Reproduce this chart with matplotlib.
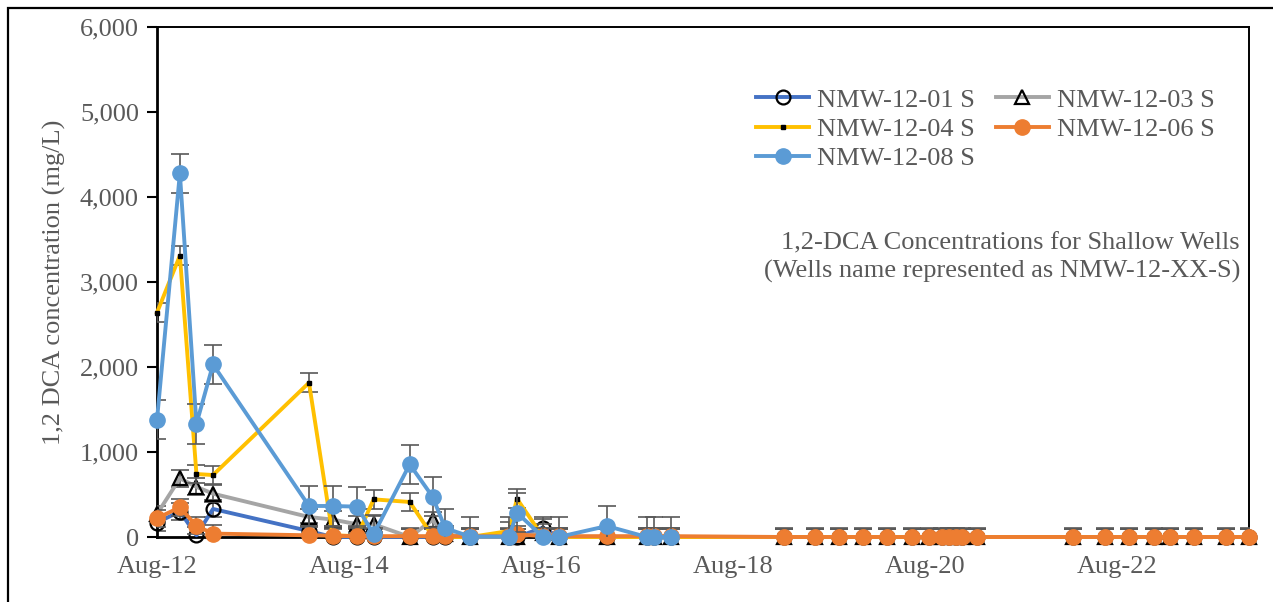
import pandas as pd
import matplotlib
matplotlib.use('Agg')
import matplotlib.pyplot as plt
import matplotlib.dates as mdates
from matplotlib.ticker import FuncFormatter
from matplotlib.patches import Rectangle

# sampling dates
early_dates = ['2012-08-01', '2012-10-27', '2012-12-29', '2013-03-02', '2014-03-02',
               '2014-05-31', '2014-09-01', '2014-11-03', '2015-03-20', '2015-06-15',
               '2015-08-02', '2015-11-05', '2016-04-01', '2016-05-01', '2016-08-08',
               '2016-10-06', '2017-04-08', '2017-09-07', '2017-10-06', '2017-12-08']
late_dates = ['2019-02-12', '2019-06-10', '2019-09-09', '2019-12-08', '2020-03-10',
              '2020-06-10', '2020-08-14', '2020-10-05', '2020-10-30', '2020-11-27',
              '2020-12-18', '2021-02-14', '2022-02-15', '2022-06-16', '2022-09-14',
              '2022-12-18', '2023-02-19', '2023-05-20', '2023-09-18', '2023-12-14']

nmw01 = [170, 300, 20, 330, 70, 0, 0, 0, 0, 0, 0, 0, 0, 0, 110, 0, 0, 0, 0, 0]
nmw03 = [270, 690, 590, 510, 235, 205, 150, 150, 0, 200, 30, 0, 0, 0, 50, 0, 0, 0, 0, 0]
nmw04 = [2640, 3310, 741, 729, 1815, 20, 10, 443, 412, 10, 0, 0, 70, 450, 0, 0, 0, 0, 0, 0]
nmw06 = [220, 350, 130, 40, 20, 15, 10, 10, 10, 10, 10, 10, 10, 30, 10, 10, 10, 10, 10, 10]
nmw08 = [1380, 4280, 1330, 2030, 365, 365, 357, 32, 855, 474, 104, 5, 5, 286, 0, 0, 129, 0, 0, 0]
late_zero = [0] * 20

# error bar half-widths per series (constant, standard error style)
err01, err03, err04, err06, err08 = 100, 100, 110, 100, 230

labels = ['NMW-12-01 S', 'NMW-12-03 S', 'NMW-12-04 S', 'NMW-12-06 S', 'NMW-12-08 S']

plt.rcParams['font.family'] = ['Liberation Serif', 'DejaVu Serif']
txt = '#595959'

fig = plt.figure(figsize=(12.73, 6.02), dpi=100)
ax = fig.add_axes([157 / 1273, 1 - 537 / 602, (1249 - 157) / 1273, (537 - 27) / 602])

# outer frame of the picture
fig.patches.append(Rectangle((8 / 1273, -0.1), 1.1, 1 - 8 / 602 + 0.1, transform=fig.transFigure,
                             fill=False, edgecolor='black', linewidth=1.6))

d_all = pd.to_datetime(early_dates + late_dates)
d_early = pd.to_datetime(early_dates)

series = [
    (d_all, nmw01 + late_zero, err01, '#4472C4', dict(marker='o', markersize=10, markerfacecolor='none',
                                                      markeredgecolor='black', markeredgewidth=1.6)),
    (d_all, nmw03 + late_zero, err03, '#A5A5A5', dict(marker='^', markersize=10, markerfacecolor='none',
                                                      markeredgecolor='black', markeredgewidth=1.6)),
    (d_all, nmw04 + late_zero, err04, '#FFC000', dict(marker='s', markersize=2.5, markerfacecolor='black',
                                                      markeredgecolor='black')),
    (d_all, nmw06 + late_zero, err06, '#ED7D31', dict(marker='o', markersize=11, markerfacecolor='#ED7D31',
                                                      markeredgecolor='#ED7D31')),
    (d_early, nmw08, err08, '#5B9BD5', dict(marker='o', markersize=11, markerfacecolor='#5B9BD5',
                                            markeredgecolor='#5B9BD5')),
]

handles = []
for i, (d, v, e, c, mk) in enumerate(series):
    ax.errorbar(d, v, yerr=e, fmt='none', ecolor='#595959', elinewidth=1.2, capsize=6.5,
                capthick=1.2, zorder=2 + i * 2)
    h, = ax.plot(d, v, color=c, linewidth=2.8, label=labels[i], zorder=3 + i * 2, clip_on=False, **mk)
    handles.append(h)

ax.set_ylim(0, 6000)
ax.set_yticks(range(0, 6001, 1000))
ax.yaxis.set_major_formatter(FuncFormatter(lambda y, p: f'{int(y):,}'))
ax.set_xlim(pd.Timestamp('2012-08-01'), pd.Timestamp('2023-12-15'))
ax.set_xticks(pd.to_datetime(['2012-08-01', '2014-08-01', '2016-08-01', '2018-08-01',
                              '2020-08-01', '2022-08-01']))
ax.xaxis.set_major_formatter(mdates.DateFormatter('%b-%y'))

ax.tick_params(axis='y', direction='out', length=7, width=1.5, colors='black', labelcolor=txt,
               labelsize=19, pad=6)
ax.tick_params(axis='x', length=0, labelcolor=txt, labelsize=19, pad=14)
for s in ax.spines.values():
    s.set_color('black')
    s.set_linewidth(1.4)
ax.spines['left'].set_linewidth(2)
ax.spines['bottom'].set_linewidth(2)

ax.set_ylabel('1,2 DCA concentration (mg/L)', fontsize=19, color=txt, labelpad=10)

# row-wise legend order like the original: 01, 03 / 04, 06 / 08
order = [0, 2, 4, 1, 3]
ax.legend([handles[k] for k in order], [labels[k] for k in order],
          loc='upper left', bbox_to_anchor=(743 / 1273, 1 - 75 / 602), bbox_transform=fig.transFigure,
          ncol=2, frameon=False, fontsize=19, labelcolor=txt, handlelength=2.0, handletextpad=0.3,
          columnspacing=0.8, labelspacing=0.22, borderpad=0)

fig.text(1240 / 1273, 1 - 232 / 602, '1,2-DCA Concentrations for Shallow Wells\n'
         '(Wells name represented as NMW-12-XX-S)', ha='right', va='top', multialignment='right',
         fontsize=19, color=txt, linespacing=1.32)

fig.savefig('out.png', dpi=100)
